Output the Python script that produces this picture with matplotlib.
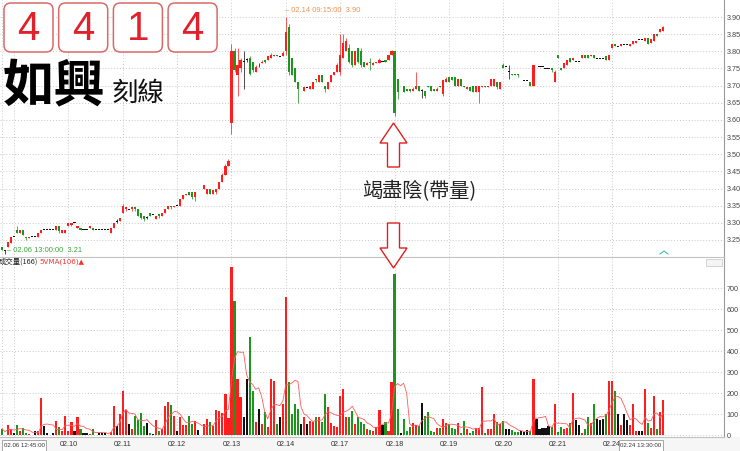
import numpy as np
import pandas as pd
import matplotlib
matplotlib.use("Agg")
import matplotlib.pyplot as plt
from matplotlib.patches import FancyBboxPatch, Rectangle, Polygon

plt.rcParams['font.family'] = ['Noto Sans CJK TC', 'DejaVu Sans']

########################################
# Data (15 min bars, 4414 如興)
########################################
days = ["02.06", "02.07", "02.10", "02.11", "02.12", "02.13", "02.14",
        "02.17", "02.18", "02.19", "02.20", "02.21", "02.24"]
bars_per_day = [4, 18, 18, 18, 18, 18, 18, 18, 18, 18, 18, 18, 18]

opens = [
    3.23, 3.22, 3.23, 3.24,
    3.26, 3.28, 3.27, 3.28, 3.26, 3.255, 3.26, 3.26, 3.26, 3.27, 3.28, 3.28, 3.28, 3.28, 3.28, 3.29, 3.27, 3.27,
    3.29, 3.295, 3.30, 3.285, 3.285, 3.28, 3.28, 3.285, 3.285, 3.28, 3.28, 3.28, 3.28, 3.28, 3.27, 3.285, 3.305, 3.305,
    3.33, 3.34, 3.34, 3.34, 3.345, 3.34, 3.33, 3.32, 3.315, 3.33, 3.325, 3.31, 3.325, 3.32, 3.33, 3.34, 3.35, 3.345,
    3.35, 3.35, 3.37, 3.38, 3.39, 3.39, 3.375, 3.39, 3.39, 3.40, 3.385, 3.40, 3.385, 3.39, 3.40, 3.42, 3.44, 3.465,
    3.59, 3.80, 3.73, 3.75, 3.77, 3.775, 3.78, 3.77, 3.74, 3.76, 3.765, 3.775, 3.775, 3.78, 3.785, 3.79, 3.785, 3.785,
    3.80, 3.87, 3.78, 3.75, 3.71, 3.69, 3.685, 3.695, 3.69, 3.69, 3.72, 3.71, 3.73, 3.70, 3.69, 3.71, 3.73, 3.74,
    3.74, 3.78, 3.80, 3.81, 3.80, 3.76, 3.81, 3.80, 3.77, 3.76, 3.77, 3.76, 3.765, 3.765, 3.77, 3.775, 3.775, 3.79,
    3.80, 3.72, 3.69, 3.70, 3.69, 3.69, 3.685, 3.69, 3.70, 3.685, 3.685, 3.70, 3.70, 3.69, 3.685, 3.70, 3.675, 3.71,
    3.725, 3.725, 3.725, 3.70, 3.72, 3.70, 3.69, 3.695, 3.70, 3.68, 3.68, 3.695, 3.70, 3.695, 3.70, 3.70, 3.71, 3.69,
    3.76, 3.755, 3.74, 3.735, 3.735, 3.735, 3.725, 3.715, 3.715, 3.71, 3.70, 3.76, 3.755, 3.755, 3.75, 3.75, 3.75, 3.71,
    3.79, 3.75, 3.75, 3.76, 3.78, 3.775, 3.77, 3.77, 3.78, 3.79, 3.79, 3.785, 3.79, 3.78, 3.78, 3.78, 3.785, 3.775,
    3.81, 3.82, 3.815, 3.815, 3.82, 3.82, 3.815, 3.82, 3.825, 3.835, 3.835, 3.83, 3.84, 3.825, 3.83, 3.85, 3.855, 3.86,
]
closes = [
    3.22, 3.22, 3.245, 3.26,
    3.26, 3.27, 3.28, 3.265, 3.255, 3.26, 3.26, 3.26, 3.27, 3.28, 3.28, 3.28, 3.28, 3.28, 3.29, 3.275, 3.28, 3.28,
    3.30, 3.30, 3.30, 3.29, 3.28, 3.28, 3.28, 3.29, 3.28, 3.28, 3.28, 3.28, 3.28, 3.28, 3.285, 3.30, 3.305, 3.315,
    3.35, 3.345, 3.34, 3.345, 3.34, 3.32, 3.315, 3.31, 3.315, 3.32, 3.325, 3.32, 3.32, 3.33, 3.34, 3.35, 3.345, 3.35,
    3.35, 3.37, 3.38, 3.385, 3.38, 3.375, 3.39, 3.39, 3.39, 3.41, 3.40, 3.385, 3.395, 3.40, 3.42, 3.44, 3.465, 3.48,
    3.80, 3.745, 3.76, 3.775, 3.77, 3.775, 3.735, 3.745, 3.755, 3.76, 3.77, 3.77, 3.785, 3.79, 3.79, 3.785, 3.785, 3.795,
    3.855, 3.74, 3.73, 3.71, 3.69, 3.69, 3.695, 3.695, 3.70, 3.71, 3.715, 3.73, 3.71, 3.69, 3.71, 3.73, 3.74, 3.76,
    3.79, 3.825, 3.83, 3.77, 3.76, 3.80, 3.77, 3.76, 3.755, 3.765, 3.765, 3.765, 3.77, 3.775, 3.77, 3.77, 3.79, 3.80,
    3.62, 3.68, 3.69, 3.68, 3.685, 3.685, 3.69, 3.70, 3.685, 3.685, 3.67, 3.695, 3.685, 3.685, 3.69, 3.695, 3.715, 3.72,
    3.71, 3.715, 3.70, 3.72, 3.70, 3.695, 3.695, 3.685, 3.68, 3.70, 3.70, 3.70, 3.695, 3.70, 3.72, 3.72, 3.695, 3.71,
    3.75, 3.755, 3.74, 3.73, 3.73, 3.73, 3.725, 3.715, 3.715, 3.70, 3.76, 3.76, 3.755, 3.755, 3.75, 3.75, 3.745, 3.74,
    3.78, 3.745, 3.765, 3.775, 3.77, 3.78, 3.77, 3.77, 3.79, 3.78, 3.78, 3.79, 3.78, 3.78, 3.78, 3.78, 3.775, 3.79,
    3.82, 3.815, 3.815, 3.82, 3.82, 3.82, 3.82, 3.83, 3.83, 3.835, 3.835, 3.84, 3.82, 3.835, 3.85, 3.845, 3.865, 3.87,
]
highs = [
    3.23, 3.22, 3.245, 3.26,
    3.26, 3.29, 3.28, 3.28, 3.26, 3.26, 3.26, 3.26, 3.27, 3.28, 3.28, 3.28, 3.28, 3.28, 3.29, 3.29, 3.28, 3.28,
    3.30, 3.30, 3.30, 3.29, 3.285, 3.28, 3.28, 3.29, 3.285, 3.28, 3.28, 3.28, 3.28, 3.28, 3.285, 3.30, 3.31, 3.315,
    3.355, 3.345, 3.34, 3.345, 3.345, 3.34, 3.33, 3.32, 3.32, 3.33, 3.325, 3.32, 3.325, 3.33, 3.34, 3.35, 3.35, 3.35,
    3.35, 3.37, 3.38, 3.385, 3.39, 3.39, 3.39, 3.39, 3.39, 3.41, 3.40, 3.40, 3.395, 3.40, 3.42, 3.445, 3.47, 3.485,
    3.82, 3.81, 3.81, 3.78, 3.80, 3.78, 3.785, 3.77, 3.76, 3.765, 3.775, 3.775, 3.785, 3.795, 3.79, 3.79, 3.785, 3.80,
    3.90, 3.88, 3.78, 3.75, 3.71, 3.69, 3.695, 3.695, 3.70, 3.71, 3.72, 3.73, 3.73, 3.70, 3.71, 3.73, 3.74, 3.765,
    3.85, 3.85, 3.84, 3.82, 3.80, 3.80, 3.81, 3.81, 3.77, 3.77, 3.78, 3.77, 3.77, 3.78, 3.77, 3.775, 3.79, 3.805,
    3.80, 3.72, 3.69, 3.70, 3.69, 3.69, 3.695, 3.74, 3.70, 3.69, 3.685, 3.70, 3.70, 3.69, 3.695, 3.70, 3.715, 3.725,
    3.725, 3.725, 3.725, 3.72, 3.72, 3.70, 3.695, 3.695, 3.70, 3.70, 3.70, 3.70, 3.70, 3.70, 3.72, 3.72, 3.71, 3.71,
    3.765, 3.755, 3.76, 3.735, 3.735, 3.735, 3.725, 3.715, 3.715, 3.71, 3.76, 3.76, 3.755, 3.755, 3.75, 3.75, 3.75, 3.745,
    3.79, 3.75, 3.765, 3.775, 3.78, 3.78, 3.77, 3.77, 3.79, 3.79, 3.79, 3.79, 3.79, 3.78, 3.78, 3.78, 3.785, 3.79,
    3.82, 3.82, 3.815, 3.82, 3.82, 3.82, 3.82, 3.83, 3.83, 3.835, 3.835, 3.84, 3.84, 3.835, 3.85, 3.85, 3.865, 3.875,
]
lows = [
    3.22, 3.21, 3.23, 3.24,
    3.26, 3.27, 3.27, 3.265, 3.25, 3.255, 3.26, 3.26, 3.26, 3.27, 3.28, 3.28, 3.28, 3.28, 3.28, 3.27, 3.27, 3.27,
    3.29, 3.29, 3.30, 3.285, 3.28, 3.28, 3.28, 3.285, 3.28, 3.28, 3.28, 3.28, 3.28, 3.28, 3.27, 3.285, 3.30, 3.305,
    3.33, 3.335, 3.34, 3.335, 3.335, 3.32, 3.31, 3.305, 3.31, 3.32, 3.325, 3.31, 3.315, 3.32, 3.33, 3.34, 3.34, 3.345,
    3.35, 3.35, 3.37, 3.38, 3.38, 3.37, 3.365, 3.39, 3.39, 3.40, 3.385, 3.385, 3.385, 3.385, 3.40, 3.42, 3.44, 3.465,
    3.56, 3.74, 3.67, 3.74, 3.69, 3.77, 3.73, 3.74, 3.74, 3.755, 3.765, 3.765, 3.775, 3.78, 3.785, 3.785, 3.785, 3.785,
    3.79, 3.73, 3.73, 3.71, 3.65, 3.69, 3.685, 3.695, 3.69, 3.69, 3.71, 3.71, 3.71, 3.68, 3.69, 3.71, 3.73, 3.74,
    3.73, 3.78, 3.80, 3.765, 3.755, 3.76, 3.765, 3.755, 3.755, 3.76, 3.745, 3.76, 3.765, 3.765, 3.77, 3.77, 3.775, 3.79,
    3.61, 3.66, 3.69, 3.68, 3.685, 3.68, 3.685, 3.69, 3.685, 3.665, 3.665, 3.695, 3.685, 3.685, 3.685, 3.695, 3.67, 3.71,
    3.71, 3.715, 3.70, 3.70, 3.70, 3.695, 3.69, 3.685, 3.68, 3.68, 3.65, 3.695, 3.695, 3.695, 3.70, 3.70, 3.69, 3.69,
    3.75, 3.755, 3.72, 3.73, 3.73, 3.725, 3.725, 3.715, 3.715, 3.70, 3.70, 3.76, 3.755, 3.755, 3.75, 3.75, 3.74, 3.71,
    3.78, 3.745, 3.75, 3.76, 3.77, 3.775, 3.77, 3.77, 3.78, 3.78, 3.78, 3.785, 3.78, 3.78, 3.78, 3.78, 3.775, 3.775,
    3.81, 3.815, 3.815, 3.815, 3.82, 3.82, 3.815, 3.82, 3.825, 3.835, 3.835, 3.83, 3.82, 3.825, 3.83, 3.845, 3.855, 3.86,
]
volumes = [
    32, 3, 48, 29,
    13, 51, 19, 35, 10, 6, 2, 19, 19, 176, 45, 10, 2, 13, 69, 40, 19, 93,
    21, 64, 19, 88, 29, 13, 11, 8, 32, 2, 13, 13, 13, 2, 16, 141, 45, 101,
    213, 120, 53, 32, 90, 74, 106, 45, 61, 10, 6, 72, 19, 32, 141, 160, 144, 90,
    22, 88, 50, 50, 90, 56, 69, 24, 2, 53, 77, 64, 45, 120, 117, 106, 197, 83,
    804, 641, 268, 182, 86, 268, 469, 210, 62, 124, 55, 110, 40, 268, 258, 55, 86, 148,
    660, 254, 100, 148, 124, 55, 86, 55, 70, 62, 85, 86, 62, 196, 134, 60, 45, 40,
    187, 220, 86, 86, 115, 55, 86, 62, 55, 30, 26, 21, 40, 121, 48, 64, 21, 254,
    770, 124, 13, 80, 21, 41, 57, 48, 45, 153, 93, 112, 21, 18, 37, 37, 80, 57,
    53, 37, 29, 57, 13, 69, 29, 13, 21, 37, 37, 230, 13, 29, 32, 100, 64, 53,
    69, 32, 32, 26, 16, 16, 19, 16, 26, 19, 270, 77, 29, 37, 37, 45, 41, 148,
    16, 41, 32, 37, 57, 200, 73, 48, 13, 32, 85, 61, 148, 80, 73, 77, 100, 260,
    260, 210, 100, 48, 100, 73, 48, 148, 21, 21, 21, 220, 57, 37, 186, 29, 112, 166,
]

price_ticks = [3.25, 3.30, 3.35, 3.40, 3.45, 3.50, 3.55, 3.60, 3.65, 3.70, 3.75, 3.80, 3.85, 3.90]
vol_ticks = [0, 100, 200, 300, 400, 500, 600, 700]

n = sum(bars_per_day)
assert len(opens) == n and len(closes) == n and len(highs) == n and len(lows) == n and len(volumes) == n

o = np.array(opens)
c = np.array(closes)
h = np.array(highs)
l = np.array(lows)
v = np.array(volumes, dtype=float)
x = np.arange(n)
day_start = np.cumsum([0] + bars_per_day[:-1])

RED = "#ff1e1e"
GREEN = "#1c961c"
BLACK = "#111111"
cols = np.where(c > o + 1e-9, RED, np.where(c < o - 1e-9, GREEN, BLACK))

ma5 = pd.Series(v).rolling(5, min_periods=1).mean()

NUM_FONT = ["Liberation Sans", "DejaVu Sans"]

########################################
# Figure / axes layout (pixel based)
########################################
W, H = 740, 451
fig = plt.figure(figsize=(W / 100, H / 100), dpi=100)
fig.patch.set_facecolor("white")

def frame(x0, y0, x1, y1):
    return [x0 / W, 1 - y1 / H, (x1 - x0) / W, (y1 - y0) / H]

# light strip behind the date labels
fig.patches.append(Rectangle((0, 0), 1, 14 / H, transform=fig.transFigure,
                             facecolor="#f6f6f6", edgecolor="none", zorder=-1))

ax_p = fig.add_axes(frame(0, 0, 724, 257))
ax_v = fig.add_axes(frame(0, 258, 724, 437))

xmin, xmax = -0.66, 239.1
grid_kw = dict(color="#c8c8c8", linestyle=(0, (1, 2)), linewidth=0.7)

for ax in (ax_p, ax_v):
    ax.set_xlim(xmin, xmax)
    ax.set_xticks(day_start)
    ax.grid(True, **grid_kw)
    ax.set_axisbelow(True)
    ax.set_facecolor("white")
    for s in ("left", "top"):
        ax.spines[s].set_visible(False)
    ax.spines["right"].set_color("#9a9a9a")
    ax.spines["bottom"].set_color("#c0c0c0")
    ax.spines["right"].set_linewidth(0.8)
    ax.spines["bottom"].set_linewidth(0.8)
    ax.yaxis.tick_right()
    ax.tick_params(axis="y", length=0, labelsize=5.2, labelcolor="#444444", pad=2)
    ax.tick_params(axis="x", length=0)

# price panel
ax_p.set_ylim(3.2003, 3.9496)
ax_p.set_yticks(price_ticks)
ax_p.set_yticklabels([f"{t:.2f}" for t in price_ticks], family=NUM_FONT)
ax_p.set_xticklabels([])

ax_p.vlines(x, l, h, colors=cols, linewidth=0.7, alpha=0.75)
body = np.maximum(np.abs(c - o), 0.0025)
bottom = np.where(np.abs(c - o) < 0.0025, (o + c) / 2 - 0.00125, np.minimum(o, c))
ax_p.bar(x, body, bottom=bottom, width=0.7, color=cols, linewidth=0)

# volume panel
ax_v.set_ylim(-8, 845)
ax_v.set_yticks(vol_ticks)
ax_v.set_yticklabels([str(t) for t in vol_ticks], family=NUM_FONT)
ax_v.bar(x, v, width=0.7, color=cols, linewidth=0)
ax_v.plot(x, ma5, color="#ff5a5a", linewidth=0.6)
# first two day labels sit under the start-time box
ax_v.set_xticklabels(["", ""] + days[2:], family=NUM_FONT)
ax_v.tick_params(axis="x", labelsize=5.2, labelcolor="#333333", pad=3.2)

########################################
# Overlay in pixel coordinates
########################################
ov = fig.add_axes([0, 0, 1, 1])
ov.set_xlim(0, W)
ov.set_ylim(H, 0)
ov.axis("off")

# title boxes
for k, digit in enumerate("4414"):
    bx = 4 + k * 54.7
    ov.add_patch(FancyBboxPatch((bx, 3), 49, 49, boxstyle="round,pad=0,rounding_size=7",
                                facecolor="white", edgecolor="#d96a6a", linewidth=1.1))
    ov.text(bx + 24.5, 29, digit, fontsize=29, color="#e0202a", ha="center", va="center",
            family=NUM_FONT)

ov.text(3, 86, "如興", fontsize=37, fontweight="bold", color="black", ha="left", va="center")
ov.text(112, 93, "刻線", fontsize=19, color="#111111", ha="left", va="center")

# price extremes
ov.text(285, 11, "– 02.14 09:15:00  3.90", fontsize=5.4, color="#f09050", ha="left", va="center",
        family=NUM_FONT)
ov.text(7, 251, "– 02.06 13:00:00  3.21", fontsize=5.4, color="#3aa63a", ha="left", va="center",
        family=NUM_FONT)
ov.plot([660, 664, 668], [254, 251, 254], color="#40c0b0", linewidth=0.8)

# volume titles
ov.text(-1, 262, "成交量(166)", fontsize=5.3, color="#222222", ha="left", va="center")
ov.text(39, 262, "5VMA(106)▲", fontsize=5.1, color="#ff3030", ha="left", va="center",
        family=["DejaVu Sans"])
ov.add_patch(Rectangle((706, 259), 16, 7, facecolor="#f4f4f4", edgecolor="#cccccc", linewidth=0.6))

# annotation arrows
ax_c = 393.5
up = [(ax_c, 123), (ax_c + 13.5, 143), (ax_c + 6, 143), (ax_c + 6, 167),
      (ax_c - 6, 167), (ax_c - 6, 143), (ax_c - 13.5, 143)]
down = [(ax_c, 268), (ax_c + 13.5, 248), (ax_c + 6, 248), (ax_c + 6, 223),
        (ax_c - 6, 223), (ax_c - 6, 248), (ax_c - 13.5, 248)]
for pts in (up, down):
    ov.add_patch(Polygon(pts, closed=True, facecolor="white", edgecolor="#e02020", linewidth=1.0))
ov.text(419, 192, "竭盡陰(帶量)", fontsize=14.5, color="#222222", ha="center", va="center")

# bottom date boxes
for bx0, txt in ((2, "02.06 12:45:00"), (619, "02.24 13:30:00")):
    ov.add_patch(Rectangle((bx0, 439.5), 44, 11, facecolor="white", edgecolor="#999999", linewidth=0.6))
    ov.text(bx0 + 22, 445.5, txt, fontsize=4.4, color="#333333", ha="center", va="center",
            family=NUM_FONT)

fig.savefig("out.png", dpi=100, facecolor="white")
